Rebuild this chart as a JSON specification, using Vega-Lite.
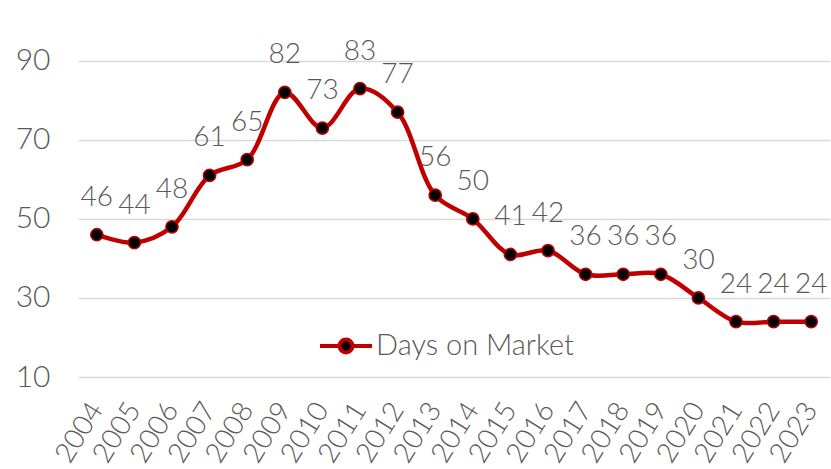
{
  "$schema": "https://vega.github.io/schema/vega-lite/v6.json",
  "width": 752,
  "height": 377,
  "autosize": {"type": "none"},
  "padding": {"left": 78, "top": 0, "right": 1, "bottom": 92},
  "background": "white",
  "config": {
    "view": {"stroke": null},
    "font": "Lato"
  },
  "data": {
    "values": [
      {"year": "2004", "days": 46, "series": "Days on Market"},
      {"year": "2005", "days": 44, "series": "Days on Market"},
      {"year": "2006", "days": 48, "series": "Days on Market"},
      {"year": "2007", "days": 61, "series": "Days on Market"},
      {"year": "2008", "days": 65, "series": "Days on Market"},
      {"year": "2009", "days": 82, "series": "Days on Market"},
      {"year": "2010", "days": 73, "series": "Days on Market"},
      {"year": "2011", "days": 83, "series": "Days on Market"},
      {"year": "2012", "days": 77, "series": "Days on Market"},
      {"year": "2013", "days": 56, "series": "Days on Market"},
      {"year": "2014", "days": 50, "series": "Days on Market"},
      {"year": "2015", "days": 41, "series": "Days on Market"},
      {"year": "2016", "days": 42, "series": "Days on Market"},
      {"year": "2017", "days": 36, "series": "Days on Market"},
      {"year": "2018", "days": 36, "series": "Days on Market"},
      {"year": "2019", "days": 36, "series": "Days on Market"},
      {"year": "2020", "days": 30, "series": "Days on Market"},
      {"year": "2021", "days": 24, "series": "Days on Market"},
      {"year": "2022", "days": 24, "series": "Days on Market"},
      {"year": "2023", "days": 24, "series": "Days on Market"}
    ]
  },
  "encoding": {
    "x": {
      "field": "year", "type": "ordinal",
      "scale": {"type": "point", "padding": 0.5},
      "axis": {
        "title": null, "domain": false, "ticks": false, "grid": false,
        "labelAngle": -58, "labelAlign": "right", "labelBaseline": "middle",
        "labelFontSize": 28, "labelColor": "#595959", "labelPadding": 28,
        "labelFontWeight": 300
      }
    },
    "y": {
      "field": "days", "type": "quantitative",
      "scale": {"domain": [10, 105.4], "nice": false, "zero": false},
      "axis": {
        "title": null, "domain": false, "ticks": false,
        "values": [10, 30, 50, 70, 90],
        "gridColor": "#D9D9D9", "gridWidth": 1.5,
        "labelFontSize": 30, "labelColor": "#595959", "labelPadding": 28,
        "labelFontWeight": 300
      }
    }
  },
  "layer": [
    {
      "mark": {"type": "line", "interpolate": "catmull-rom", "strokeWidth": 4.5},
      "encoding": {
        "color": {
          "field": "series", "type": "nominal",
          "scale": {"range": ["#C00000"]},
          "legend": {
            "title": null, "orient": "none", "legendX": 240, "legendY": 318,
            "labelFontSize": 29, "labelColor": "#595959", "labelFontWeight": 300,
            "labelOffset": 2, "labelLimit": 0,
            "symbolSize": 2704,
            "symbolType": "M-1,0H-0.25M0.25,0H1M-0.25,0A0.25,0.25,0,1,1,0.25,0A0.25,0.25,0,1,1,-0.25,0Z",
            "encode": {
              "symbols": {
                "update": {
                  "fill": {"value": "black"},
                  "stroke": {"value": "#C00000"},
                  "strokeWidth": {"value": 4},
                  "opacity": {"value": 1}
                }
              }
            }
          }
        }
      }
    },
    {
      "mark": {"type": "point", "filled": true, "fill": "black", "stroke": "#C00000", "strokeWidth": 1.5, "size": 150, "opacity": 1}
    },
    {
      "mark": {"type": "text", "dy": -37, "fontSize": 28, "fontWeight": 300, "color": "#595959"},
      "encoding": {"text": {"field": "days", "type": "quantitative"}}
    }
  ]
}
